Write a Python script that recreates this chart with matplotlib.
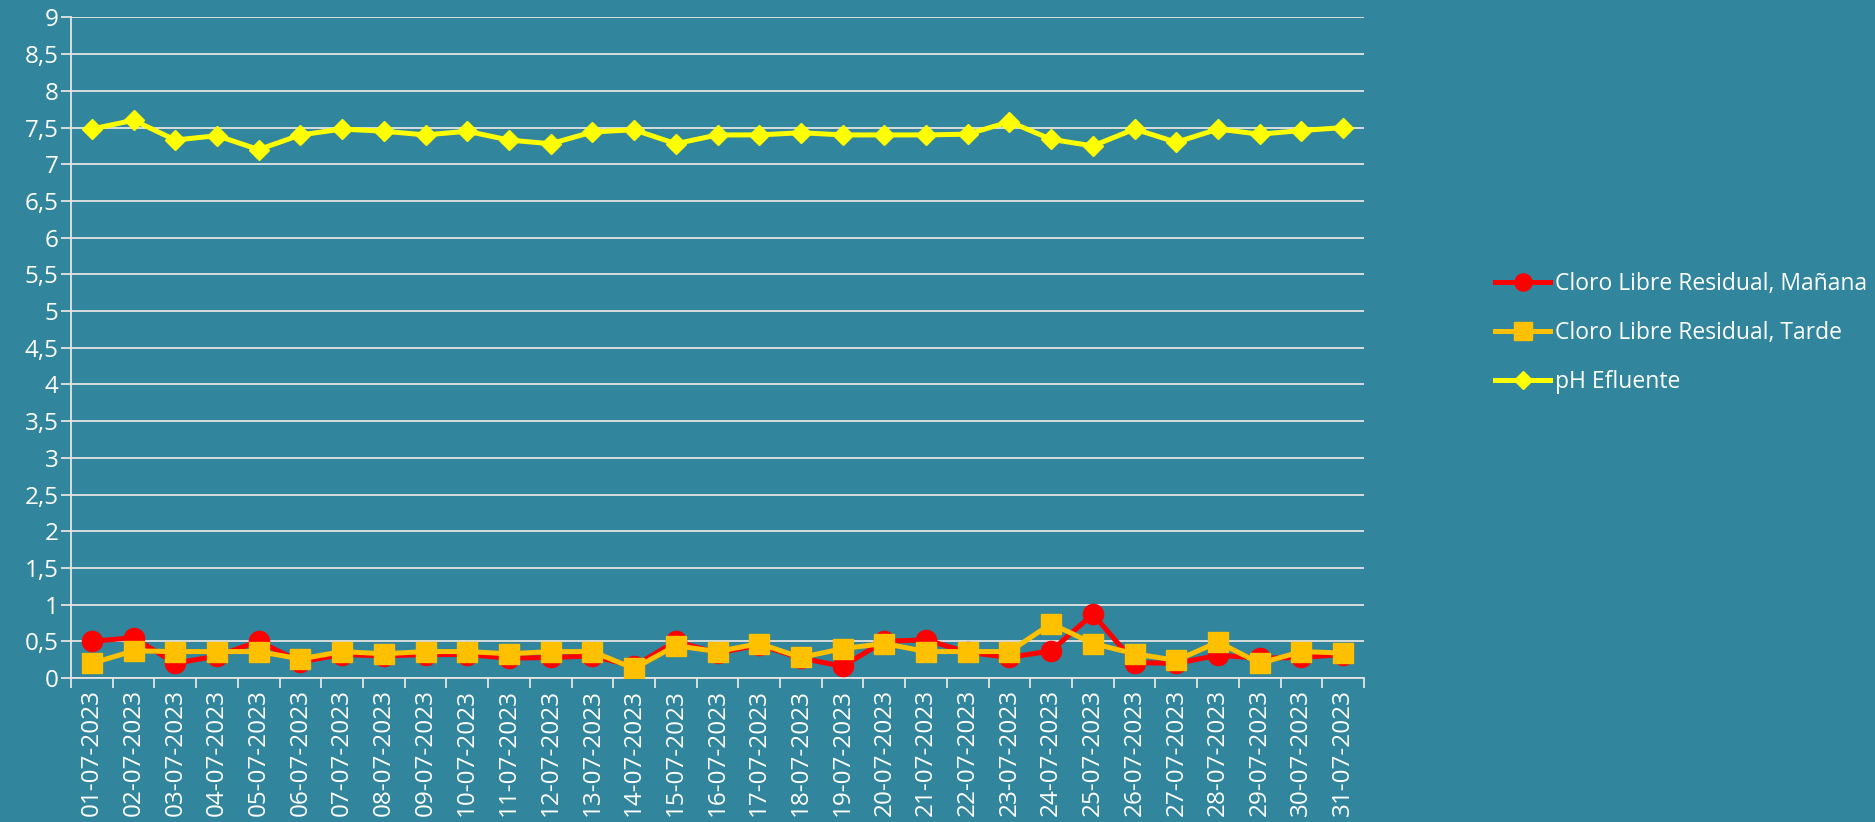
import numpy as np
import matplotlib
matplotlib.use("Agg")
import matplotlib.pyplot as plt

# dates on the x axis
dates = ["01-07-2023", "02-07-2023", "03-07-2023", "04-07-2023", "05-07-2023",
         "06-07-2023", "07-07-2023", "08-07-2023", "09-07-2023", "10-07-2023",
         "11-07-2023", "12-07-2023", "13-07-2023", "14-07-2023", "15-07-2023",
         "16-07-2023", "17-07-2023", "18-07-2023", "19-07-2023", "20-07-2023",
         "21-07-2023", "22-07-2023", "23-07-2023", "24-07-2023", "25-07-2023",
         "26-07-2023", "27-07-2023", "28-07-2023", "29-07-2023", "30-07-2023",
         "31-07-2023"]

# Cloro libre residual (mg/L)
manana = [0.50, 0.55, 0.20, 0.30, 0.50, 0.22, 0.32, 0.30, 0.32, 0.32, 0.27,
          0.28, 0.30, 0.16, 0.50, 0.34, 0.45, 0.27, 0.16, 0.50, 0.52, 0.35,
          0.28, 0.37, 0.87, 0.21, 0.20, 0.31, 0.27, 0.28, 0.32]
tarde = [0.20, 0.37, 0.36, 0.36, 0.36, 0.26, 0.36, 0.33, 0.36, 0.36, 0.33,
         0.36, 0.36, 0.13, 0.44, 0.36, 0.47, 0.28, 0.40, 0.47, 0.36, 0.36,
         0.36, 0.74, 0.47, 0.33, 0.24, 0.49, 0.20, 0.36, 0.34]
# pH efluente
ph = [7.48, 7.60, 7.33, 7.39, 7.20, 7.40, 7.48, 7.45, 7.40, 7.45, 7.33, 7.28,
      7.44, 7.47, 7.28, 7.40, 7.40, 7.43, 7.40, 7.40, 7.40, 7.41, 7.58, 7.34,
      7.25, 7.48, 7.30, 7.48, 7.41, 7.46, 7.50]

y_ticks = [0, 0.5, 1, 1.5, 2, 2.5, 3, 3.5, 4, 4.5, 5, 5.5, 6, 6.5, 7, 7.5, 8, 8.5, 9]
y_labels = ["0", "0,5", "1", "1,5", "2", "2,5", "3", "3,5", "4", "4,5", "5",
            "5,5", "6", "6,5", "7", "7,5", "8", "8,5", "9"]

bg = "#31859C"
plt.rcParams['font.family'] = ['Open Sans', 'DejaVu Sans']
plt.rcParams['font.size'] = 17.5

fig = plt.figure(figsize=(18.75, 8.22), dpi=100, facecolor=bg)
ax = fig.add_axes([71/1875, 1-678/822, (1364-71)/1875, (678-17.5)/822])
ax.set_facecolor(bg)

x = np.arange(len(dates))
ax.plot(x, manana, color="#FF0000", lw=3.6, marker="o", ms=14.5,
        label="Cloro Libre Residual, Mañana", zorder=3)
ax.plot(x, tarde, color="#FFC000", lw=3.6, marker="s", ms=14.5,
        label="Cloro Libre Residual, Tarde", zorder=4)
ax.plot(x, ph, color="#FFFF00", lw=3.6, marker="D", ms=10.5,
        label="pH Efluente", zorder=5)

ax.set_xlim(-0.5, len(dates) - 0.5)
ax.set_ylim(0, 9)
ax.set_yticks(y_ticks, y_labels)
ax.yaxis.grid(True, color="#E4E4E4", lw=1.3)
ax.set_axisbelow(True)

# labels centred on categories, tick marks on the boundaries
ax.set_xticks(x, dates, rotation=90)
ax.set_xticks(np.arange(len(dates) + 1) - 0.5, minor=True)
ax.tick_params(axis="x", which="major", length=0, pad=8, colors="white")
ax.tick_params(axis="x", which="minor", length=7, width=1.3, color="#E4E4E4")
ax.tick_params(axis="y", length=7, width=1.3, color="#E4E4E4", pad=2,
               labelcolor="white")

for s in ["top", "right"]:
    ax.spines[s].set_visible(False)
for s in ["left", "bottom"]:
    ax.spines[s].set_color("#E4E4E4")
    ax.spines[s].set_linewidth(1.3)

leg = fig.legend(loc="center left", bbox_to_anchor=(1495/1875, 1-333/822),
                 frameon=False, borderpad=0, borderaxespad=0,
                 handlelength=2.4, handletextpad=0.2, labelspacing=1.1,
                 markerscale=0.85, fontsize=16.5)
for t in leg.get_texts():
    t.set_color("white")

fig.savefig("out.png", dpi=100, facecolor=bg)
